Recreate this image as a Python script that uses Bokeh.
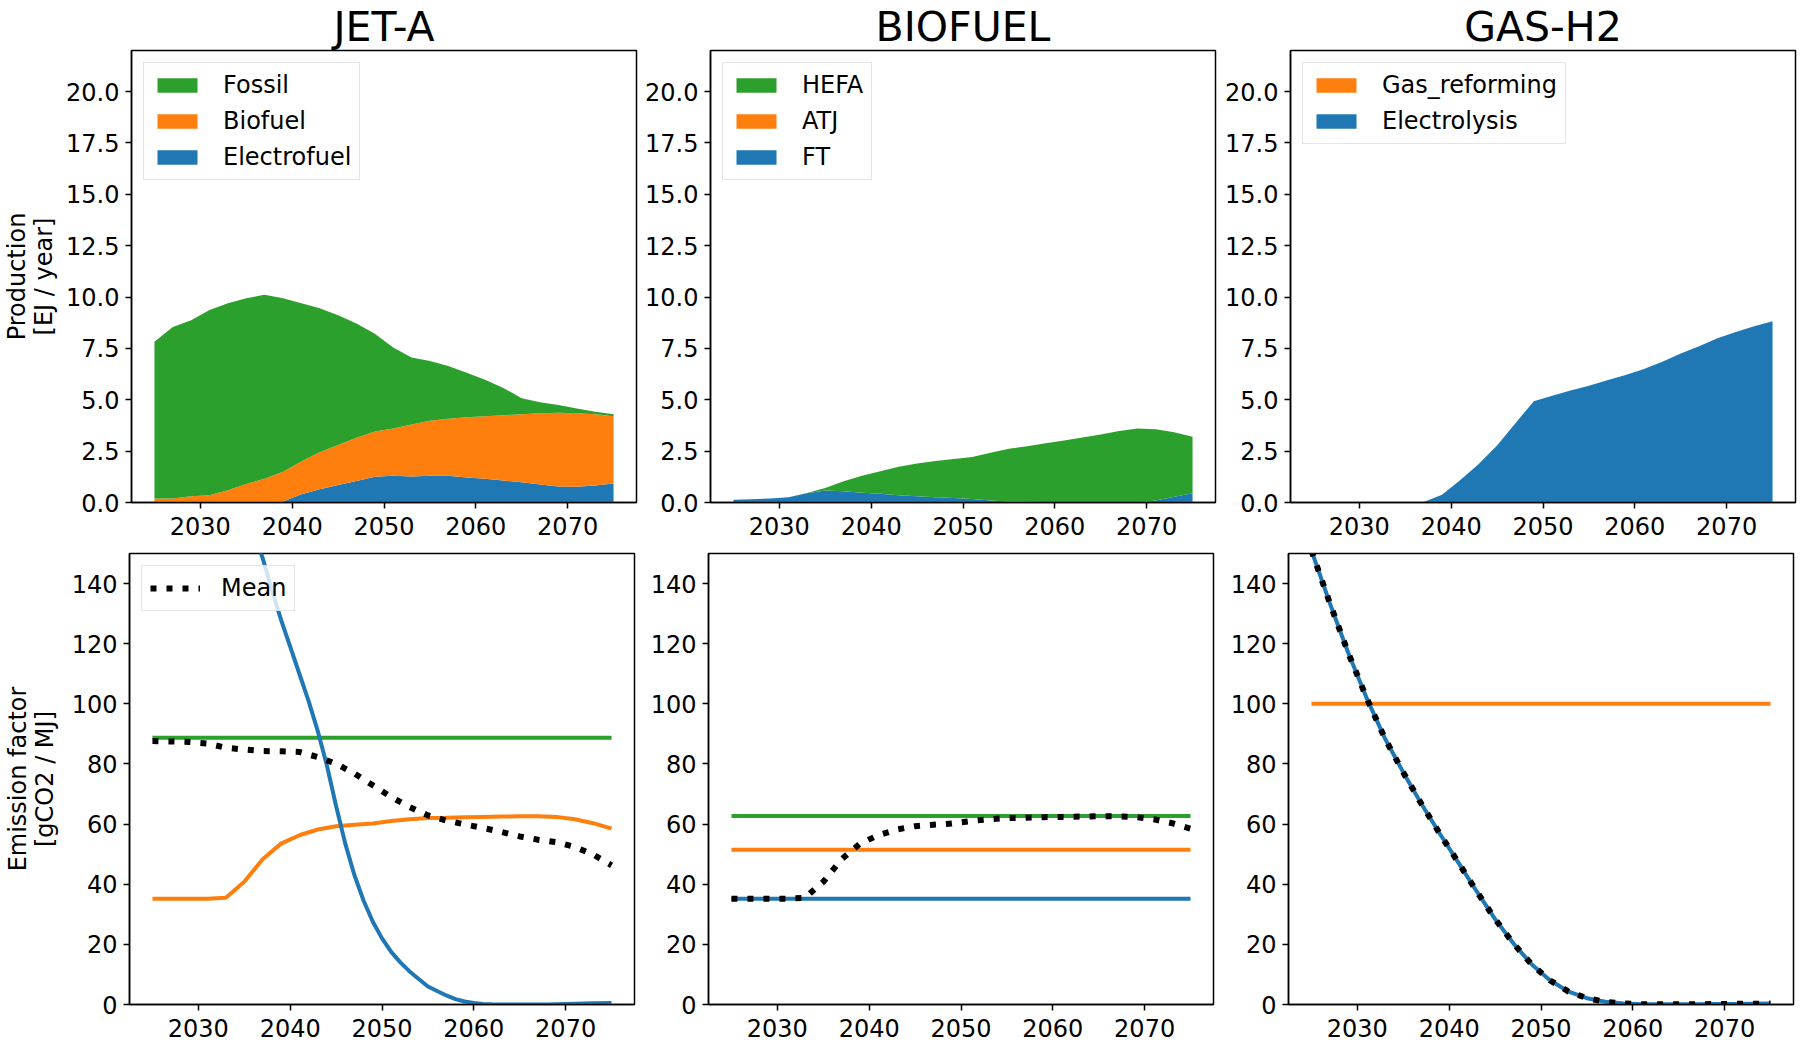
from bokeh.plotting import figure
from bokeh.layouts import column, row
from bokeh.models import ColumnDataSource, FixedTicker, NumeralTickFormatter, Range1d
from bokeh.embed import file_html
from bokeh.resources import INLINE

# ---------------- data ----------------
years = [2025, 2027, 2029, 2031, 2033, 2035, 2037, 2039, 2041, 2043, 2045, 2047, 2049,
         2051, 2053, 2055, 2057, 2059, 2061, 2063, 2065, 2067, 2069, 2071, 2073, 2075]

# JET-A production [EJ/year]
jet_fossil = [7.63, 8.34, 8.57, 9.02, 9.10, 9.04, 8.96, 8.44, 7.70, 7.00, 6.32, 5.56, 4.76,
              3.95, 3.26, 2.91, 2.56, 2.16, 1.78, 1.32, 0.78, 0.53, 0.38, 0.23, 0.12, 0.10]
jet_biofuel = [0.20, 0.20, 0.30, 0.35, 0.60, 0.90, 1.15, 1.45, 1.60, 1.80, 1.95, 2.10, 2.20,
               2.30, 2.53, 2.68, 2.78, 2.93, 3.05, 3.18, 3.32, 3.47, 3.59, 3.58, 3.47, 3.28]
jet_electrofuel = [0, 0, 0, 0, 0, 0, 0, 0.05, 0.40, 0.65, 0.85, 1.05, 1.25,
                   1.30, 1.27, 1.30, 1.30, 1.22, 1.15, 1.07, 0.98, 0.88, 0.78, 0.77, 0.83, 0.92]

# BIOFUEL production
bio_hefa = [0, 0, 0, 0, 0.01, 0.13, 0.49, 0.82, 1.10, 1.39, 1.60, 1.76, 1.90,
            2.05, 2.32, 2.57, 2.70, 2.85, 3.00, 3.15, 3.30, 3.48, 3.60, 3.46, 3.14, 2.75]
bio_atj = [0, 0, 0, 0, 0, 0, 0, 0, 0, 0, 0, 0, 0,
           0, 0, 0, 0, 0, 0, 0, 0, 0, 0, 0, 0, 0]
bio_ft = [0.13, 0.16, 0.19, 0.25, 0.45, 0.58, 0.55, 0.48, 0.42, 0.35, 0.30, 0.26, 0.22,
          0.17, 0.10, 0.05, 0.04, 0.03, 0.02, 0.01, 0.01, 0, 0, 0.10, 0.28, 0.45]

# GAS-H2 production
h2_gas_reforming = [0, 0, 0, 0, 0, 0, 0, 0, 0, 0, 0, 0, 0,
                    0, 0, 0, 0, 0, 0, 0, 0, 0, 0, 0, 0, 0]
h2_electrolysis = [0, 0, 0, 0, 0, 0, 0.02, 0.38, 1.10, 1.87, 2.78, 3.86, 4.93,
                   5.20, 5.45, 5.68, 5.95, 6.20, 6.50, 6.85, 7.25, 7.60, 8.00, 8.30, 8.58, 8.82]

# Emission factors [gCO2/MJ]
ef_fossil = [88.7] * 26
ef_hefa = [62.7] * 26
ef_atj = [51.5] * 26
ef_ft = [35.2] * 26
ef_gas_reforming = [100.0] * 26
ef_biofuel_mean = [35.2, 35.2, 35.2, 35.2, 35.5, 40.8, 48.3, 53.5, 56.3, 58.2, 59.3, 59.8, 60.2,
                   61.0, 61.6, 62.0, 62.1, 62.3, 62.4, 62.5, 62.6, 62.6, 62.4, 61.6, 60.3, 58.5]
ef_jet_mean = [87.6, 87.5, 87.3, 86.8, 85.4, 84.8, 84.3, 84.2, 84.0, 82.3, 80.1, 76.8, 72.9,
               69.0, 65.7, 62.9, 61.2, 59.9, 58.7, 57.4, 55.9, 54.8, 54.0, 52.4, 49.9, 46.3]
ef_electrolysis = [151, 133.5, 117, 102, 88.5, 77.2, 66.6, 56.7, 47.2, 37.6, 28.4, 20.3, 13.3,
                   8.0, 4.3, 2.1, 0.9, 0.35, 0.1, 0.05, 0.05, 0.1, 0.15, 0.2, 0.25, 0.3]

# electrofuel emission factor, read on a finer year grid
ef_electrofuel_years = [2025, 2030, 2033, 2035, 2036, 2037, 2038, 2039, 2040, 2041, 2042, 2043,
                        2044, 2045, 2046, 2047, 2048, 2049, 2050, 2051, 2052, 2053, 2054, 2055,
                        2056, 2057, 2058, 2059, 2060, 2061, 2062, 2065, 2068, 2070, 2073, 2075]
ef_electrofuel = [260, 200, 176, 163, 157, 148.5, 138, 128, 119, 110, 101, 91,
                  79.5, 66, 53.5, 43, 34.5, 27.5, 22, 17.5, 14, 11, 8.5, 6,
                  4.5, 3, 1.8, 1.0, 0.5, 0.2, 0.05, 0, 0, 0.2, 0.4, 0.5]

titles = ["JET-A", "BIOFUEL", "GAS-H2"]
x_ticks = [2030, 2040, 2050, 2060, 2070]
prod_ticks = [0, 2.5, 5, 7.5, 10, 12.5, 15, 17.5, 20]
ef_ticks = [0, 20, 40, 60, 80, 100, 120, 140]

BLUE = "#1f77b4"
ORANGE = "#ff7f0e"
GREEN = "#2ca02c"
FONT = "DejaVu Sans"

LEFT = [129, 69, 70]


def make_fig(r, c, ymax, yticks, fmt=None):
    fh = 452 if r == 0 else 451
    p = figure(frame_width=505, frame_height=fh,
               min_border_left=LEFT[c], min_border_right=5,
               min_border_top=50 if r == 0 else 6, min_border_bottom=45,
               x_range=Range1d(2022.5, 2077.5), y_range=Range1d(0, ymax),
               output_backend="svg", toolbar_location=None)
    p.background_fill_color = "white"
    p.border_fill_color = "white"
    p.grid.visible = False
    p.outline_line_color = "black"
    p.outline_line_width = 1.5
    p.outline_line_alpha = 1
    for ax in (p.xaxis[0], p.yaxis[0]):
        ax.axis_line_color = "black"
        ax.axis_line_width = 1.5
        ax.major_tick_line_color = "black"
        ax.major_tick_line_width = 1.5
        ax.major_tick_out = 6
        ax.major_tick_in = 0
        ax.minor_tick_out = 0
        ax.minor_tick_in = 0
        ax.major_label_text_font = FONT
        ax.major_label_text_font_size = "24px"
        ax.major_label_text_color = "black"
        ax.axis_label_text_font = FONT
        ax.axis_label_text_font_size = "24px"
        ax.axis_label_text_font_style = "normal"
        ax.axis_label_text_color = "black"
        ax.axis_label_text_line_height = 0.95
    p.xaxis.major_label_standoff = 8
    p.yaxis.major_label_standoff = 6
    p.xaxis.ticker = FixedTicker(ticks=x_ticks)
    p.yaxis.ticker = FixedTicker(ticks=yticks)
    if fmt:
        p.yaxis.formatter = NumeralTickFormatter(format=fmt)
    if r == 0:
        p.title.text = titles[c]
        p.title.align = "center"
        p.title.text_font = FONT
        p.title.text_font_size = "41px"
        p.title.text_font_style = "normal"
        p.title.text_color = "black"
        p.title.standoff = 0
        p.title.offset = 0
    return p


def style_legend(p):
    lg = p.legend[0]
    lg.location = "top_left"
    lg.label_text_font = FONT
    lg.label_text_font_size = "24px"
    lg.label_text_color = "black"
    lg.glyph_width = 50
    lg.glyph_height = 18
    lg.label_standoff = 21
    lg.spacing = 8
    lg.padding = 8
    lg.margin = 12
    lg.border_line_color = "#cccccc"
    lg.border_line_width = 1.5
    lg.background_fill_alpha = 0.8
    lg.items = list(reversed(lg.items))


src = ColumnDataSource(dict(
    year=years,
    jet_fossil=jet_fossil, jet_biofuel=jet_biofuel, jet_electrofuel=jet_electrofuel,
    bio_hefa=bio_hefa, bio_atj=bio_atj, bio_ft=bio_ft,
    h2_gas_reforming=h2_gas_reforming, h2_electrolysis=h2_electrolysis,
    ef_fossil=ef_fossil, ef_hefa=ef_hefa, ef_atj=ef_atj, ef_ft=ef_ft,
    ef_gas_reforming=ef_gas_reforming, ef_biofuel_mean=ef_biofuel_mean,
    ef_jet_mean=ef_jet_mean, ef_electrolysis=ef_electrolysis,
))
src_ef_electrofuel = ColumnDataSource(dict(year=ef_electrofuel_years, ef=ef_electrofuel))

# ---- top row: production ----
p1 = make_fig(0, 0, 22, prod_ticks, "0.0")
p1.varea_stack(["jet_electrofuel", "jet_biofuel", "jet_fossil"], x="year", source=src,
               color=[BLUE, ORANGE, GREEN], legend_label=["Electrofuel", "Biofuel", "Fossil"])
p1.yaxis.axis_label = "Production\n[EJ / year]"
p1.yaxis.axis_label_standoff = 5
style_legend(p1)

p2 = make_fig(0, 1, 22, prod_ticks, "0.0")
p2.varea_stack(["bio_ft", "bio_atj", "bio_hefa"], x="year", source=src,
               color=[BLUE, ORANGE, GREEN], legend_label=["FT", "ATJ", "HEFA"])
style_legend(p2)

p3 = make_fig(0, 2, 22, prod_ticks, "0.0")
p3.varea_stack(["h2_electrolysis", "h2_gas_reforming"], x="year", source=src,
               color=[BLUE, ORANGE], legend_label=["Electrolysis", "Gas_reforming"])
style_legend(p3)

# ---- bottom row: emission factors ----
LW = 4
q1 = make_fig(1, 0, 150, ef_ticks)
q1.line("year", "ef_fossil", source=src, color=GREEN, line_width=LW)
q1.line("year", "ef_biofuel_mean", source=src, color=ORANGE, line_width=LW)
q1.line("year", "ef", source=src_ef_electrofuel, color=BLUE, line_width=LW)
q1.line("year", "ef_jet_mean", source=src, color="black", line_width=6, line_dash="6 10",
        legend_label="Mean")
q1.yaxis.axis_label = "Emission factor\n[gCO2 / MJ]"
q1.yaxis.axis_label_standoff = 10
style_legend(q1)

q2 = make_fig(1, 1, 150, ef_ticks)
q2.line("year", "ef_hefa", source=src, color=GREEN, line_width=LW)
q2.line("year", "ef_atj", source=src, color=ORANGE, line_width=LW)
q2.line("year", "ef_ft", source=src, color=BLUE, line_width=LW)
q2.line("year", "ef_biofuel_mean", source=src, color="black", line_width=6, line_dash="6 10")

q3 = make_fig(1, 2, 150, ef_ticks)
q3.line("year", "ef_gas_reforming", source=src, color=ORANGE, line_width=LW)
q3.line("year", "ef_electrolysis", source=src, color=BLUE, line_width=LW)
q3.line("year", "ef_electrolysis", source=src, color="black", line_width=6, line_dash="6 10")

layout = column(row(p1, p2, p3), row(q1, q2, q3))

with open("out.html", "w") as f:
    f.write(file_html(layout, INLINE))
